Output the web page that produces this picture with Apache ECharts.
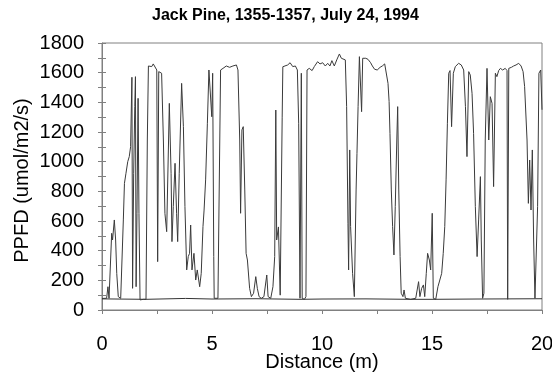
<!DOCTYPE html>
<html>
<head>
<meta charset="utf-8">
<script src="https://cdn.jsdelivr.net/npm/echarts@6/dist/echarts.min.js"></script>
<style>
    html, body { margin: 0; padding: 0; background: #fff; }
    #main { width: 552px; height: 376px; }
</style>
</head>
<body>
<div id="main"></div>
<script>
    // transect trace (distance in m, PPFD)
    var distance = [0.00, 0.21, 0.27, 0.32, 0.39, 0.44, 0.48, 0.56, 0.62, 0.67, 0.74, 0.85, 0.91, 0.97,
        1.02, 1.09, 1.17, 1.24, 1.30, 1.36, 1.39, 1.44, 1.49, 1.52, 1.55, 1.59, 1.64, 1.68, 1.73, 1.88,
        2.00, 2.06, 2.11, 2.18, 2.26, 2.33, 2.41, 2.49, 2.53, 2.58, 2.64, 2.71, 2.79, 2.86, 2.94,
        3.06, 3.14, 3.18, 3.24, 3.32, 3.39, 3.44, 3.51, 3.62, 3.70, 3.77, 3.85, 3.92, 3.98,
        4.03, 4.09, 4.18, 4.26, 4.33, 4.44, 4.51, 4.59, 4.64, 4.71, 4.79, 4.86, 4.94, 4.99,
        5.03, 5.08, 5.10, 5.27, 5.35, 5.39, 5.50, 5.65, 5.80, 5.95,
        6.11, 6.18, 6.26, 6.30, 6.36, 6.42, 6.49, 6.55, 6.61, 6.71, 6.79, 6.89, 6.99,
        7.06, 7.14, 7.24, 7.36, 7.49, 7.55, 7.67, 7.77, 7.85, 7.90, 7.94,
        8.02, 8.10, 8.19, 8.22, 8.29, 8.44, 8.55, 8.67, 8.79, 8.88, 8.94,
        9.00, 9.06, 9.10, 9.20, 9.27, 9.32, 9.42, 9.55, 9.65, 9.80, 9.91,
        10.03, 10.15, 10.26, 10.36, 10.45, 10.56, 10.67, 10.79, 10.88, 10.97,
        11.06, 11.12, 11.18, 11.21, 11.26, 11.30, 11.39, 11.47, 11.55, 11.59, 11.64, 11.70, 11.76, 11.80, 11.85, 11.99,
        12.09, 12.21, 12.29, 12.39, 12.51, 12.64, 12.74, 12.85, 12.94,
        13.00, 13.05, 13.09, 13.15, 13.21, 13.27, 13.33, 13.40, 13.44, 13.49, 13.55, 13.60, 13.68, 13.73, 13.79,
        14.03, 14.26, 14.33, 14.39, 14.45, 14.53, 14.61, 14.67, 14.74, 14.80, 14.88, 14.94,
        15.01, 15.06, 15.17, 15.27, 15.36, 15.44, 15.51, 15.58, 15.64, 15.70, 15.76, 15.82, 15.89, 15.97,
        16.06, 16.21, 16.33, 16.44, 16.52, 16.59, 16.67, 16.74, 16.82, 16.89, 16.97,
        17.05, 17.12, 17.20, 17.24, 17.30, 17.36, 17.42, 17.50, 17.58, 17.65, 17.73, 17.80, 17.88, 17.95,
        18.03, 18.11, 18.21, 18.33, 18.41, 18.44, 18.49, 18.61, 18.71, 18.82, 18.94,
        19.05, 19.14, 19.21, 19.32, 19.38, 19.44, 19.50, 19.56, 19.62, 19.68, 19.74, 19.80, 19.86, 19.94, 20.00];

    var ppfd = [78, 79, 157, 79, 90, 517, 472, 607, 472, 247, 90, 79, 90, 607,
        854, 922, 1000, 1034, 1101, 1569, 146, 922, 1371, 1573, 157, 652, 1427, 652, 68, 72,
        72, 1146, 1645, 1652, 1641, 1659, 1652, 1618, 326, 1607, 1614, 1596, 1146, 652, 528,
        1393, 922, 461, 697, 989, 652, 461, 922, 1528, 1236, 697, 270, 360, 382,
        573, 270, 382, 202, 270, 157, 247, 562, 674, 877, 1259, 1618, 1629, 1303,
        1596, 360, 79, 79, 90, 1618, 1629, 1645, 1636, 1645,
        1652, 1618, 1146, 652, 1214, 1236, 809, 382, 337, 146, 90, 113, 225,
        146, 90, 79, 90, 236, 90, 79, 157, 360, 1348, 472,
        560, 100, 1300, 1640, 1641, 1652, 1667, 1641, 1645, 1618, 1259,
        79, 1596, 79, 72, 90, 1618, 1629, 1614, 1641, 1674, 1659,
        1667, 1645, 1663, 1645, 1681, 1645, 1686, 1726, 1697, 1703,
        1686, 1371, 585, 270, 1079, 562, 247, 90, 809, 1056, 1371, 1708, 1712, 1337, 1697, 1697,
        1690, 1667, 1645, 1623, 1618, 1636, 1645, 1659, 1659,
        1528, 1405, 1191, 809, 562, 371, 697, 1146, 1371, 809, 360, 113, 90, 135, 79,
        72, 79, 90, 191, 90, 146, 169, 90, 247, 382, 337, 270,
        652, 79, 72, 157, 146, 247, 382, 562, 877, 1259, 1596, 1614, 1236, 1596,
        1641, 1663, 1652, 1618, 1371, 1034, 1607, 1584, 1461, 1191, 697,
        360, 607, 899, 472, 79, 113, 1146, 1629, 1146, 1438, 1393, 832, 1596, 1573,
        1614, 1629, 1618, 1629, 1614, 72, 1629, 1636, 1645, 1652, 1663,
        1645, 1607, 1506, 1146, 719, 1011, 674, 1079, 472, 79, 90, 697, 1596, 1618, 1350];

    // the flat low line along the bottom
    var baseDistance = [0, 2, 3.8, 5, 7, 9, 10, 12, 14, 15, 17, 18.5, 20];
    var basePpfd = [75, 72, 78, 74, 76, 72, 74, 75, 72, 72, 74, 75, 76];

    function pairs(xs, ys) {
        return xs.map(function (x, i) { return [x, ys[i]]; });
    }

    var font = 'Arial, "Liberation Sans", sans-serif';
    var axisGray = '#808080';
    var plain = function (v) { return String(v); };

    var chart = echarts.init(document.getElementById('main'));
    chart.setOption({
        animation: false,
        title: {
            text: 'Jack Pine, 1355-1357, July 24, 1994',
            left: 147,
            top: 3,
            textStyle: {fontFamily: font, fontSize: 16, fontWeight: 'bold', color: '#000'}
        },
        grid: {
            left: 102, right: 10, top: 43, bottom: 66,
            outerBoundsMode: 'none',
            containLabel: false,
            show: true, borderColor: axisGray, borderWidth: 1
        },
        xAxis: {
            type: 'value',
            min: 0, max: 20, interval: 5,
            name: 'Distance (m)',
            nameLocation: 'middle',
            nameGap: 42,
            nameMoveOverlap: false,
            nameTextStyle: {fontFamily: font, fontSize: 20, color: '#000'},
            axisLine: {lineStyle: {color: axisGray}},
            axisTick: {show: true, length: 4, lineStyle: {color: axisGray}},
            minorTick: {show: true, splitNumber: 2, length: 4, lineStyle: {color: axisGray}},
            axisLabel: {fontFamily: font, fontSize: 20, color: '#000', margin: 24, formatter: plain},
            splitLine: {show: false}
        },
        yAxis: [{
            type: 'value',
            min: 0, max: 1800, interval: 200,
            name: 'PPFD (umol/m2/s)',
            nameLocation: 'middle',
            nameGap: 70,
            nameMoveOverlap: false,
            nameTextStyle: {fontFamily: font, fontSize: 20, color: '#000', padding: [0, 0, 0, -8]},
            axisLine: {show: true, lineStyle: {color: axisGray}},
            axisTick: {show: true, length: 4, lineStyle: {color: axisGray}},
            minorTick: {show: true, splitNumber: 2, length: 4, lineStyle: {color: axisGray}},
            axisLabel: {fontFamily: font, fontSize: 20, color: '#000', margin: 18, formatter: plain},
            splitLine: {show: false}
        }, {
            // inward half of the crossing ticks
            type: 'value',
            position: 'left',
            min: 0, max: 1800, interval: 200,
            axisLine: {show: false},
            axisTick: {show: true, inside: true, length: 4, lineStyle: {color: axisGray}},
            minorTick: {show: true, splitNumber: 2, length: 4, lineStyle: {color: axisGray}},
            axisLabel: {show: false},
            splitLine: {show: false}
        }],
        series: [{
            type: 'line',
            data: pairs(baseDistance, basePpfd),
            symbol: 'none',
            lineStyle: {color: '#333', width: 1}
        }, {
            type: 'line',
            data: pairs(distance, ppfd),
            symbol: 'none',
            lineStyle: {color: '#3a3a3a', width: 1}
        }]
    });
</script>
</body>
</html>
